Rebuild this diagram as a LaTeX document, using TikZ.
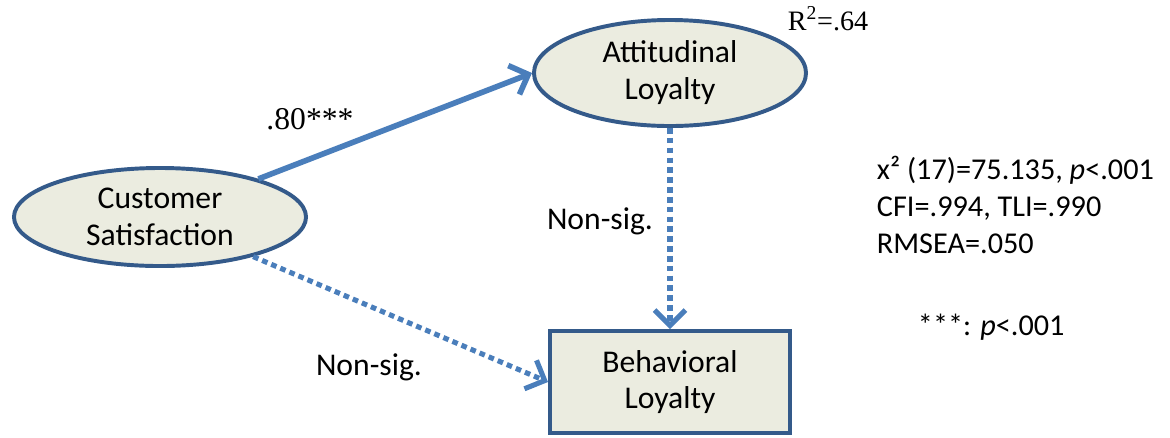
\documentclass[tikz,border=0pt]{standalone}
\usepackage{fontspec}
\setmainfont{Carlito}
\newfontfamily\timesfont{Liberation Serif}
\usetikzlibrary{arrows.meta, shapes.geometric, positioning}

\definecolor{pathblue}{RGB}{74,126,187}
\definecolor{rimblue}{RGB}{52,90,138}
\definecolor{latentfill}{RGB}{235,236,224}

\begin{document}
\begin{tikzpicture}[x=0.025cm, y=0.025cm,
  latent/.style={ellipse, draw=rimblue, line width=2.8pt, fill=latentfill,
    inner sep=0pt, align=center, font=\fontsize{22.5}{26.3}\selectfont},
  observed/.style={rectangle, draw=rimblue, line width=2.8pt, fill=latentfill,
    inner sep=0pt, align=center, font=\fontsize{22.5}{25}\selectfont,
    minimum width=6cm, minimum height=2.55cm},
  sigpath/.style={draw=pathblue, line width=4pt,
    -{Straight Barb[length=11pt, width=22pt]}},
  nspath/.style={sigpath, line width=3.6pt, dash pattern=on 4pt off 3pt},
  coef/.style={font=\timesfont\fontsize{22.5}{26}\selectfont, anchor=base},
  nslabel/.style={font=\fontsize{22.5}{26}\selectfont, anchor=base},
  fitnote/.style={font=\fontsize{21.5}{26.3}\selectfont, align=left, anchor=base west}]

  \useasboundingbox (0,0) rectangle (1170,-437);

  % Latent and observed variables
  \node[latent, minimum width=7.3cm, minimum height=2.45cm] (satisfaction) at (160,-217) {Customer\\Satisfaction};
  \node[latent, minimum width=6.8cm, minimum height=2.65cm] (attitudinal) at (670,-73) {Attitudinal\\Loyalty};
  \node[observed] (behavioral) at (670,-382) {Behavioral\\Loyalty};

  % Structural paths
  \draw[sigpath] (satisfaction) -- (attitudinal.west);
  \draw[nspath] (attitudinal) -- (behavioral);
  \draw[nspath] (satisfaction) -- (behavioral.west);

  % Path coefficients
  \node[coef] (coefsa) at (310,-129) {.80***};
  \node[coef, font=\timesfont\fontsize{20}{24}\selectfont] (rsq) at (828,-30) {R\textsuperscript{2}=.64};
  \node[nslabel] (nsab) at (600,-229) {Non-sig.};
  \node[nslabel] (nssb) at (369,-375) {Non-sig.};

  % Model fit (base is the last line)
  \node[fitnote] (fit) at (872,-253) {x² (17)=75.135, \textit{p}<.001\\CFI=.994, TLI=.990\\RMSEA=.050};
  \node[fitnote] (sig) at (913,-335) {***: \textit{p}<.001};
\end{tikzpicture}
\end{document}
